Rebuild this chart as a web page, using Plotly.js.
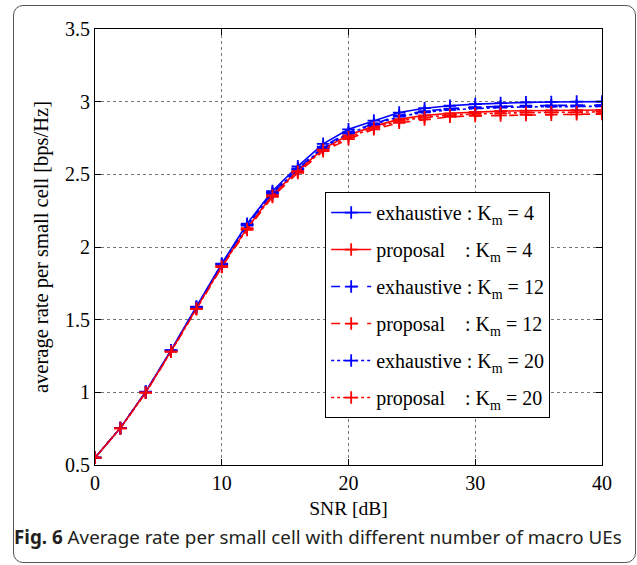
<!DOCTYPE html>
<html>
<head>
<meta charset="utf-8">
<script src="https://cdn.plot.ly/plotly-3.0.1.min.js"></script>
<style>
  html, body { margin: 0; padding: 0; background: #ffffff; }
  #frame { position: absolute; left: 13px; top: 5px; width: 621px; height: 556px;
           border: 1px solid #555; border-radius: 10px; }
  #chart { position: absolute; left: 0; top: 0; width: 637px; height: 565px; }
</style>
</head>
<body>
<div id="frame"></div>
<div id="chart"></div>
<script>
const snr = [0, 2, 4, 6, 8, 10, 12, 14, 16, 18, 20, 22, 24, 26, 28, 30, 32, 34, 36, 38, 40];
const exhaustiveK4  = [0.55, 0.755, 1.005, 1.29, 1.59, 1.885, 2.16, 2.385, 2.555, 2.71, 2.81, 2.87, 2.925, 2.955, 2.972, 2.983, 2.99, 2.995, 2.998, 3.0, 3.0];
const proposalK4    = [0.55, 0.754, 1.0, 1.283, 1.578, 1.87, 2.13, 2.36, 2.525, 2.675, 2.77, 2.83, 2.88, 2.905, 2.92, 2.93, 2.935, 2.938, 2.94, 2.942, 2.943];
const exhaustiveK12 = [0.55, 0.755, 1.003, 1.288, 1.587, 1.882, 2.152, 2.375, 2.54, 2.69, 2.79, 2.85, 2.905, 2.935, 2.952, 2.962, 2.968, 2.972, 2.974, 2.975, 2.976];
const proposalK12   = [0.55, 0.753, 0.998, 1.279, 1.572, 1.862, 2.118, 2.345, 2.51, 2.66, 2.742, 2.81, 2.855, 2.878, 2.896, 2.902, 2.906, 2.909, 2.911, 2.913, 2.915];
const exhaustiveK20 = [0.55, 0.755, 1.002, 1.287, 1.585, 1.88, 2.148, 2.37, 2.535, 2.683, 2.782, 2.843, 2.897, 2.927, 2.944, 2.954, 2.96, 2.964, 2.966, 2.967, 2.968];
const proposalK20   = [0.55, 0.753, 0.999, 1.281, 1.575, 1.866, 2.124, 2.352, 2.518, 2.668, 2.755, 2.82, 2.868, 2.892, 2.908, 2.916, 2.921, 2.924, 2.926, 2.928, 2.93];

const legendNames = [
  'exhaustive : K<sub>m</sub> = 4',
  'proposal\u00A0\u00A0\u00A0\u00A0: K<sub>m</sub> = 4',
  'exhaustive : K<sub>m</sub> = 12',
  'proposal\u00A0\u00A0\u00A0\u00A0: K<sub>m</sub> = 12',
  'exhaustive : K<sub>m</sub> = 20',
  'proposal\u00A0\u00A0\u00A0\u00A0: K<sub>m</sub> = 20'
];
const xTickVals = [0, 10, 20, 30, 40];
const yTickVals = [0.5, 1, 1.5, 2, 2.5, 3, 3.5];
const yTickText = ['0.5', '1', '1.5', '2', '2.5', '3', '3.5'];
const caption = '<b>Fig. 6</b> Average rate per small cell with different number of macro UEs';

const series = [exhaustiveK4, proposalK4, exhaustiveK12, proposalK12, exhaustiveK20, proposalK20];
const colors = ['#0000ff', '#ff0000', '#0000ff', '#ff0000', '#0000ff', '#ff0000'];
const dashes = ['solid', 'solid', 'dash', 'dash', 'dot', 'dot'];

const traces = series.map((ys, i) => ({
  x: snr, y: ys, type: 'scatter', mode: 'lines+markers',
  name: legendNames[i], legendgroup: 'g' + i,
  line: { color: colors[i], width: 1.6, dash: dashes[i] },
  marker: { symbol: 'cross-thin', size: 9, color: colors[i], line: { color: colors[i], width: 1.8 } }
}));

const serif = 'Liberation Serif, Times New Roman, serif';
const layout = {
  width: 637, height: 565,
  margin: { l: 95, r: 35, t: 29, b: 100 },
  paper_bgcolor: 'rgba(0,0,0,0)',
  plot_bgcolor: '#ffffff',
  font: { family: serif, size: 20, color: '#000' },
  showlegend: true,
  legend: {
    x: 0.454, y: 0.626, xanchor: 'left', yanchor: 'top',
    bgcolor: '#ffffff', bordercolor: '#000', borderwidth: 1,
    font: { family: serif, size: 20, color: '#000' },
    itemwidth: 40, traceorder: 'grouped', tracegroupgap: 8
  },
  xaxis: {
    range: [0, 40], tickvals: xTickVals, ticktext: xTickVals.map(String),
    showline: true, linecolor: '#000', linewidth: 1, mirror: 'ticks',
    ticks: 'inside', ticklen: 6, tickcolor: '#000',
    showgrid: true, gridcolor: '#777', griddash: 'dot', gridwidth: 1,
    zeroline: false,
    tickfont: { family: serif, size: 20 },
    title: { text: 'SNR [dB]', font: { family: serif, size: 19.5 }, standoff: 8 }
  },
  yaxis: {
    range: [0.5, 3.5], tickvals: yTickVals, ticktext: yTickText,
    showline: true, linecolor: '#000', linewidth: 1, mirror: 'ticks',
    ticks: 'inside', ticklen: 6, tickcolor: '#000',
    showgrid: true, gridcolor: '#777', griddash: 'dot', gridwidth: 1,
    zeroline: false,
    tickfont: { family: serif, size: 20 },
    title: { text: 'average rate per small cell [bps/Hz]', font: { family: serif, size: 20.5 }, standoff: 10 }
  },
  annotations: [{
    text: caption, xref: 'paper', yref: 'paper',
    x: 0.44, y: -0.165, xanchor: 'center', yanchor: 'middle', showarrow: false,
    font: { family: 'Noto Sans, Open Sans, sans-serif', size: 18.8, color: '#231f20' }
  }]
};

Plotly.newPlot('chart', traces, layout, { displayModeBar: false, staticPlot: true });
</script>
</body>
</html>
